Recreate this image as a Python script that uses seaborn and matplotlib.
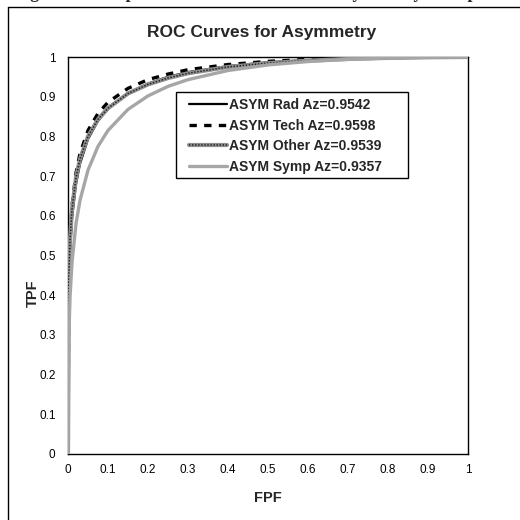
import matplotlib
matplotlib.use("Agg")
import matplotlib.pyplot as plt
import pandas as pd
import seaborn as sns
from matplotlib.lines import Line2D
from matplotlib.patches import Rectangle
from matplotlib.legend_handler import HandlerTuple
from matplotlib.ticker import FuncFormatter, FixedLocator

# ROC operating points (false positive fraction vs true positive fraction)
fpf = [0, 0.002, 0.005, 0.01, 0.02, 0.03, 0.05, 0.075, 0.1, 0.15, 0.2,
       0.25, 0.3, 0.4, 0.5, 0.6, 0.7, 0.8, 0.9, 1.0]
tpf_rad = [0, 0.408, 0.510, 0.594, 0.680, 0.731, 0.793, 0.839, 0.870, 0.909,
           0.933, 0.950, 0.962, 0.977, 0.987, 0.992, 0.996, 0.998, 0.9995, 1.0]
tpf_tech = [0, 0.440, 0.542, 0.625, 0.708, 0.757, 0.815, 0.858, 0.886, 0.921,
            0.943, 0.957, 0.968, 0.981, 0.989, 0.994, 0.997, 0.9987, 0.9996, 1.0]
tpf_other = [0, 0.442, 0.538, 0.616, 0.696, 0.743, 0.800, 0.843, 0.871, 0.908,
             0.931, 0.947, 0.959, 0.975, 0.9845, 0.9908, 0.995, 0.9977, 0.9993, 1.0]
tpf_symp = [0, 0.295, 0.394, 0.483, 0.580, 0.639, 0.715, 0.775, 0.815, 0.868,
            0.902, 0.926, 0.943, 0.966, 0.980, 0.9886, 0.9942, 0.9975, 0.9993, 1.0]

groups = ["Rad", "Tech", "Other", "Symp"]
az_values = [0.9542, 0.9598, 0.9539, 0.9357]
x_ticks = [0, 0.1, 0.2, 0.3, 0.4, 0.5, 0.6, 0.7, 0.8, 0.9, 1]
y_ticks = [0, 0.1, 0.2, 0.3, 0.4, 0.5, 0.6, 0.7, 0.8, 0.9, 1]

labels = [f"ASYM {g} Az={a:.4f}" for g, a in zip(groups, az_values)]
df = pd.concat(
    [pd.DataFrame({"FPF": fpf, "TPF": t, "group": lab})
     for t, lab in zip([tpf_rad, tpf_tech, tpf_other, tpf_symp], labels)],
    ignore_index=True,
)

sns.set_style("white")
plt.rcParams["font.family"] = ["Liberation Sans", "DejaVu Sans"]

W = H = 520
fig = plt.figure(figsize=(5.2, 5.2), dpi=100)
fig.patch.set_facecolor("white")

# chart-area border (runs off the right and bottom edges)
fig.add_artist(Line2D([8 / W, 8 / W], [1 - 7 / H, -0.01], transform=fig.transFigure,
                      color="black", lw=1.0))
fig.add_artist(Line2D([8 / W, 1.01], [1 - 7 / H, 1 - 7 / H], transform=fig.transFigure,
                      color="black", lw=1.0))

# caption line above the chart; only its descenders fall inside the page
fig.text(14 / W, 1 + 2.5 / H, "Figure 6: Comparison of ROC curves for Asymmetry Groups",
         family=["Liberation Serif", "DejaVu Serif"], fontweight="bold", fontsize=13,
         ha="left", va="baseline")

ax = fig.add_axes([68 / W, (H - 454) / H, 400 / W, 397 / H])

def sub(label):
    return df[df["group"] == label]

# Rad: solid black
sns.lineplot(data=sub(labels[0]), x="FPF", y="TPF", ax=ax, color="black", lw=1.6,
             estimator=None, sort=False, legend=False, zorder=3)
# Tech: heavy short dashes
sns.lineplot(data=sub(labels[1]), x="FPF", y="TPF", ax=ax, color="black", lw=2.4,
             estimator=None, sort=False, legend=False, zorder=4,
             linestyle=(0, (2.2, 2.2)))
# Other: grey band with dark stipple on top
sns.lineplot(data=sub(labels[2]), x="FPF", y="TPF", ax=ax, color="#8e8e8e", lw=3.0,
             estimator=None, sort=False, legend=False, zorder=5)
sns.lineplot(data=sub(labels[2]), x="FPF", y="TPF", ax=ax, color="#1e1e1e", lw=1.1,
             estimator=None, sort=False, legend=False, zorder=6,
             linestyle=(0, (0.9, 1.1)))
# Symp: light grey
sns.lineplot(data=sub(labels[3]), x="FPF", y="TPF", ax=ax, color="#a6a6a6", lw=2.4,
             estimator=None, sort=False, legend=False, zorder=7)

ax.set_xlim(0, 1)
ax.set_ylim(0, 1)
ax.xaxis.set_major_locator(FixedLocator(x_ticks))
ax.yaxis.set_major_locator(FixedLocator(y_ticks))
fmt = FuncFormatter(lambda v, p: f"{v:g}")
ax.xaxis.set_major_formatter(fmt)
ax.yaxis.set_major_formatter(fmt)
ax.tick_params(axis="x", direction="inout", length=7, width=1, color="black",
               labelsize=8.5, pad=4, labelcolor="black")
ax.tick_params(axis="y", direction="out", length=4, width=1, color="black",
               labelsize=8.5, pad=5, labelcolor="black")
for s in ax.spines.values():
    s.set_visible(True)
    s.set_color("black")
    s.set_linewidth(1.0)
ax.set_xlabel("")
ax.set_ylabel("")
ax.grid(False)

fig.text(262 / W, 1 - 33 / H, "ROC Curves for Asymmetry", fontsize=12.5,
         fontweight="bold", ha="center", va="center")
fig.text(268 / W, 1 - 498 / H, "FPF", fontsize=10.5, fontweight="bold",
         ha="center", va="center")
fig.text(33 / W, 1 - 293 / H, "TPF", fontsize=10.5, fontweight="bold",
         ha="center", va="center", rotation=90)

# legend box drawn as its own rectangle, entries placed inside it
fig.add_artist(Rectangle((176 / W, 1 - 178 / H), (408 - 176) / W, (178 - 92) / H,
                         transform=fig.transFigure, facecolor="white",
                         edgecolor="black", lw=1.0, zorder=8))
handles = [
    Line2D([], [], color="black", lw=1.6),
    Line2D([], [], color="black", lw=2.4, linestyle=(0, (2.2, 2.2))),
    (Line2D([], [], color="#8e8e8e", lw=3.0),
     Line2D([], [], color="#1e1e1e", lw=1.1, linestyle=(0, (0.9, 1.1)))),
    Line2D([], [], color="#a6a6a6", lw=2.4),
]
leg = fig.legend(handles, labels, loc="upper left",
                 bbox_to_anchor=(189 / W, 1 - 98 / H), bbox_transform=fig.transFigure,
                 handler_map={tuple: HandlerTuple(ndivide=1, pad=0)},
                 prop={"weight": "bold", "size": 10}, frameon=False,
                 borderpad=0, labelspacing=0.48, handlelength=2.75,
                 handletextpad=0.15, borderaxespad=0)
leg.set_zorder(9)

fig.savefig("out.png", dpi=100, facecolor="white")
